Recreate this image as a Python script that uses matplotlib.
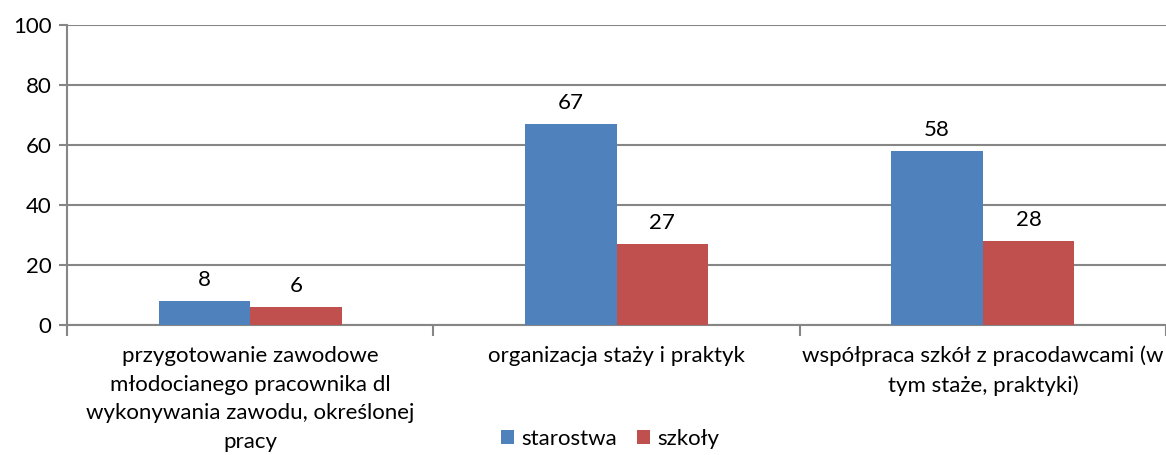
import matplotlib
matplotlib.use("Agg")
import matplotlib.pyplot as plt
import numpy as np

categories = [
    "przygotowanie zawodowe\nmłodocianego pracownika dl\nwykonywania zawodu, określonej\npracy",
    "organizacja staży i praktyk",
    "współpraca szkół z pracodawcami (w\ntym staże, praktyki)",
]
series_names = ["starostwa", "szkoły"]
starostwa = [8, 67, 58]
szkoly = [6, 27, 28]
y_ticks = [0, 20, 40, 60, 80, 100]

colors = ["#4F81BD", "#C0504D"]
grid_color = "#868686"
fs = 16

plt.rcParams["font.family"] = ["Lato", "DejaVu Sans"]

fig = plt.figure(figsize=(11.66, 4.55), dpi=100)
ax = fig.add_axes([67 / 1166, 130 / 455, 1 - 67 / 1166, 300 / 455])

x = np.arange(len(categories))
width = 0.25
bars1 = ax.bar(x - width / 2, starostwa, width, color=colors[0], label=series_names[0], zorder=3)
bars2 = ax.bar(x + width / 2, szkoly, width, color=colors[1], label=series_names[1], zorder=3)

for bars, vals in ((bars1, starostwa), (bars2, szkoly)):
    for b, v in zip(bars, vals):
        ax.annotate(str(v), (b.get_x() + b.get_width() / 2, v), xytext=(0, 8),
                    textcoords="offset points", ha="center", va="bottom", fontsize=fs)

ax.set_xlim(-0.5, len(categories) - 0.5)
ax.set_ylim(0, 100)
ax.set_yticks(y_ticks)
ax.tick_params(axis="y", labelsize=fs, length=6, width=1.5, color=grid_color, pad=5)

# category boundary ticks only; category names are placed as text below the axis
ax.set_xticks(np.arange(len(categories) + 1) - 0.5)
ax.set_xticklabels([])
ax.tick_params(axis="x", length=8, width=1.5, color=grid_color)
for xi, name in zip(x, categories):
    ax.annotate(name, (xi, 0), xytext=(0, -15), textcoords="offset points",
                xycoords=("data", "axes fraction"), ha="center", va="top",
                fontsize=fs, linespacing=1.55, annotation_clip=False)

ax.grid(axis="y", color=grid_color, linewidth=1.5, zorder=0)
for side in ("top", "right"):
    ax.spines[side].set_visible(False)
for side in ("left", "bottom"):
    ax.spines[side].set_color(grid_color)
    ax.spines[side].set_linewidth(1.5)

fig.legend(handles=[bars1, bars2], labels=series_names, loc="center",
           bbox_to_anchor=(610 / 1166, 1 - 439 / 455), ncol=2, frameon=False, fontsize=fs,
           handlelength=0.6, handleheight=0.6, handletextpad=0.3, columnspacing=0.9)

fig.savefig("out.png", dpi=100)
